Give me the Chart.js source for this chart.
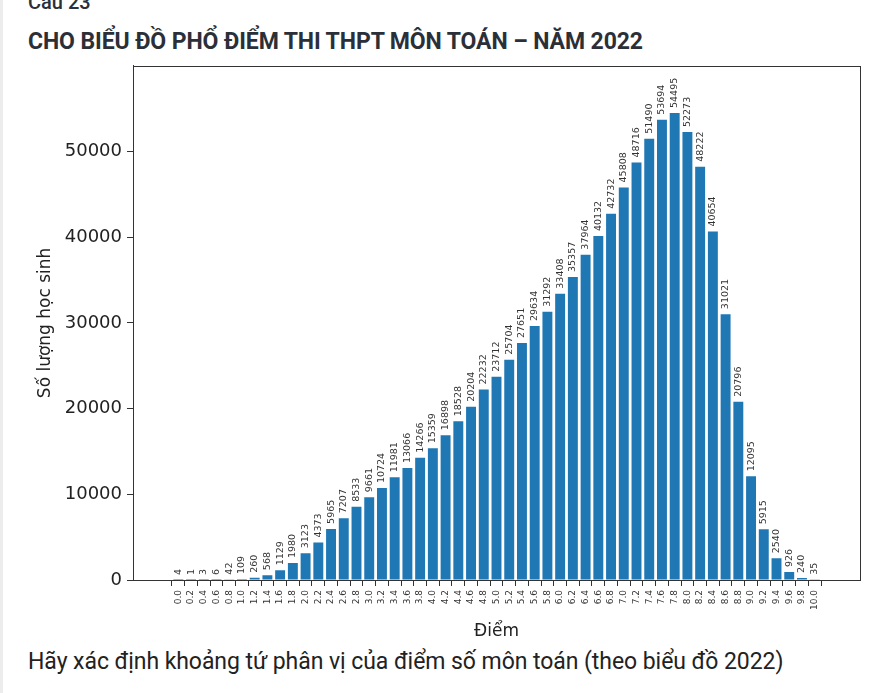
<!DOCTYPE html>
<html lang="vi">
<head>
<meta charset="utf-8">
<title>Phổ điểm môn Toán 2022</title>
<script src="https://cdn.jsdelivr.net/npm/chart.js@4.4.1/dist/chart.umd.min.js"></script>
<style>
  html, body { margin: 0; padding: 0; background: #fff; }
  body { width: 877px; height: 693px; position: relative; overflow: hidden; border-left: 3px solid #ececec; box-sizing: border-box; }
  .cau { position: absolute; left: 25px; top: -10px; font: 500 20px Roboto, sans-serif; color: #2b2f38; }
  .title { position: absolute; left: 25px; top: 28px; font: bold 23px Roboto, sans-serif; color: #2b2f38; letter-spacing: -0.1px; }
  .question { position: absolute; left: 25px; top: 648px; font: 23px Roboto, sans-serif; color: #222; letter-spacing: -0.06px; }
  .wrap { position: absolute; left: -3px; top: 50px; width: 877px; height: 595px; }
</style>
</head>
<body>
<div class="cau">Cau 23</div>
<div class="title">CHO BIỂU ĐỒ PHỔ ĐIỂM THI THPT MÔN TOÁN – NĂM 2022</div>
<div class="wrap"><canvas id="scoreChart"></canvas></div>
<div class="question">Hãy xác định khoảng tứ phân vị của điểm số môn toán (theo biểu đồ 2022)</div>

<script>
const scores = ['0.0', '0.2', '0.4', '0.6', '0.8', '1.0', '1.2', '1.4', '1.6', '1.8',
  '2.0', '2.2', '2.4', '2.6', '2.8', '3.0', '3.2', '3.4', '3.6', '3.8',
  '4.0', '4.2', '4.4', '4.6', '4.8', '5.0', '5.2', '5.4', '5.6', '5.8',
  '6.0', '6.2', '6.4', '6.6', '6.8', '7.0', '7.2', '7.4', '7.6', '7.8',
  '8.0', '8.2', '8.4', '8.6', '8.8', '9.0', '9.2', '9.4', '9.6', '9.8', '10.0'];

const counts = [4, 1, 3, 6, 42, 109, 260, 568, 1129, 1980,
  3123, 4373, 5965, 7207, 8533, 9661, 10724, 11981, 13066, 14266,
  15359, 16898, 18528, 20204, 22232, 23712, 25704, 27651, 29634, 31292,
  33408, 35357, 37964, 40132, 42732, 45808, 48716, 51490, 53694, 54495,
  52273, 48222, 40654, 31021, 20796, 12095, 5915, 2540, 926, 240, 35];

const yTicks = [0, 10000, 20000, 30000, 40000, 50000];

// value labels above each bar, rotated like matplotlib's
const barLabels = {
  id: 'barLabels',
  afterDatasetsDraw(chart) {
    const ctx = chart.ctx;
    const meta = chart.getDatasetMeta(0);
    ctx.save();
    ctx.font = '9.5px "DejaVu Sans"';
    ctx.fillStyle = '#333';
    ctx.textAlign = 'left';
    ctx.textBaseline = 'middle';
    meta.data.forEach((bar, i) => {
      ctx.save();
      ctx.translate(bar.x, bar.y - 5);
      ctx.rotate(-Math.PI / 2);
      ctx.fillText(String(counts[i]), 0, 0);
      ctx.restore();
    });
    ctx.restore();
  }
};

// full frame around plot area
const frame = {
  id: 'frame',
  afterDraw(chart) {
    const a = chart.chartArea;
    const ctx = chart.ctx;
    ctx.save();
    ctx.strokeStyle = '#333';
    ctx.lineWidth = 1;
    ctx.strokeRect(Math.round(a.left) + 0.5, Math.round(a.top) + 0.5,
      Math.round(a.right - a.left), Math.round(a.bottom - a.top));
    ctx.restore();
  }
};

new Chart(document.getElementById('scoreChart'), {
  type: 'bar',
  data: {
    datasets: [{
      data: scores.map((s, i) => ({ x: parseFloat(s), y: counts[i] })),
      backgroundColor: '#1f77b4',
      barPercentage: 0.78,
      categoryPercentage: 1.0
    }]
  },
  options: {
    responsive: true,
    maintainAspectRatio: false,
    animation: false,
    layout: { padding: { top: 6, right: 17, bottom: 0, left: 0 } },
    plugins: {
      legend: { display: false },
      tooltip: { enabled: false }
    },
    scales: {
      x: {
        type: 'linear',
        min: -0.6,
        max: 10.6,
        afterBuildTicks: scale => { scale.ticks = scores.map(s => ({ value: parseFloat(s) })); },
        afterFit: scale => { scale.height = 65; },
        grid: { display: true, drawOnChartArea: false, drawTicks: true, tickLength: 6, color: '#333' },
        border: { display: true, color: '#333' },
        ticks: {
          autoSkip: false,
          minRotation: 90,
          maxRotation: 90,
          padding: 4,
          color: '#333',
          font: { family: 'DejaVu Sans', size: 9 },
          callback: v => Number(v).toFixed(1)
        },
        title: {
          display: true,
          text: 'Điểm',
          color: '#222',
          font: { family: 'DejaVu Sans', size: 17 },
          padding: { top: 0, bottom: 3 }
        }
      },
      y: {
        min: 0,
        max: 60000,
        afterBuildTicks: scale => { scale.ticks = yTicks.map(v => ({ value: v })); },
        afterFit: scale => { scale.width = 133; },
        grid: { display: true, drawOnChartArea: false, drawTicks: true, tickLength: 6, color: '#333' },
        border: { display: true, color: '#333' },
        ticks: {
          padding: 5,
          color: '#222',
          font: { family: 'DejaVu Sans', size: 18 },
          callback: v => String(v)
        },
        title: {
          display: true,
          text: 'Số lượng học sinh',
          color: '#222',
          font: { family: 'DejaVu Sans', size: 17 },
          padding: { top: 35, bottom: 0 }
        }
      }
    }
  },
  plugins: [barLabels, frame]
});
</script>
</body>
</html>
